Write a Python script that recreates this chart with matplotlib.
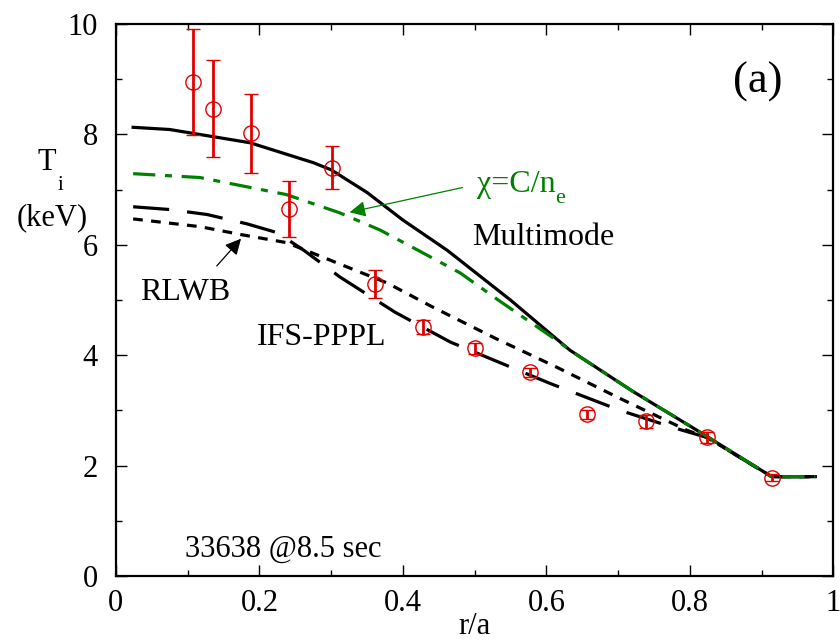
import numpy as np
import matplotlib
matplotlib.use('Agg')
import matplotlib.pyplot as plt

plt.rcParams['font.family'] = ['Liberation Serif', 'DejaVu Serif']
plt.rcParams['lines.scale_dashes'] = False

red = '#e00000'
green = '#008000'

# measured Ti (keV) with error bars
r_exp = [0.107, 0.135, 0.188, 0.241, 0.301, 0.361, 0.428, 0.501, 0.577, 0.657, 0.739, 0.824, 0.914]
ti_exp = [8.95, 8.47, 8.02, 6.65, 7.40, 5.29, 4.51, 4.13, 3.69, 2.93, 2.80, 2.51, 1.78]
ti_err = [0.96, 0.88, 0.71, 0.50, 0.39, 0.25, 0.12, 0.10, 0.08, 0.08, 0.12, 0.10, 0.06]

# Multimode (solid)
r_mm = [0.024, 0.075, 0.187, 0.275, 0.30, 0.35, 0.40, 0.462, 0.55, 0.633, 0.72, 0.81, 0.914, 0.975]
ti_mm = [8.13, 8.09, 7.85, 7.49, 7.36, 6.95, 6.45, 5.90, 5.00, 4.09, 3.35, 2.64, 1.80, 1.80]

# chi = C/n_e (green dash-dot)
r_chi = [0.024, 0.117, 0.238, 0.312, 0.368, 0.42, 0.48, 0.533, 0.61, 0.64, 0.72, 0.81, 0.914, 0.975]
ti_chi = [7.29, 7.22, 6.91, 6.58, 6.27, 5.91, 5.49, 5.00, 4.31, 4.03, 3.35, 2.64, 1.80, 1.80]

# RLWB (short dash)
r_rlwb = [0.024, 0.117, 0.177, 0.238, 0.326, 0.378, 0.442, 0.53, 0.615, 0.699, 0.796, 0.824, 0.914, 0.975]
ti_rlwb = [6.47, 6.33, 6.18, 6.04, 5.58, 5.31, 4.87, 4.30, 3.78, 3.24, 2.64, 2.51, 1.80, 1.80]

# IFS-PPPL (long dash)
r_ifs = [0.024, 0.075, 0.127, 0.183, 0.225, 0.261, 0.312, 0.389, 0.466, 0.605, 0.703, 0.782, 0.824, 0.914, 0.975]
ti_ifs = [6.69, 6.64, 6.55, 6.38, 6.22, 5.91, 5.42, 4.78, 4.24, 3.49, 3.00, 2.67, 2.51, 1.80, 1.80]

fig = plt.figure(figsize=(8.4, 6.41), dpi=100)
ax = fig.add_axes([0.138, 0.1014, 0.854, 0.861])

ax.plot(r_mm, ti_mm, color='black', lw=2.3)
ax.plot(r_rlwb, ti_rlwb, color='black', lw=2.3, dashes=(7, 6))
ax.plot(r_ifs, ti_ifs, color='black', lw=2.3, dashes=(26, 13))
ax.plot(r_chi, ti_chi, color=green, lw=2.3, dashes=(16, 7, 5, 7))

ax.errorbar(r_exp, ti_exp, yerr=ti_err, fmt='o', ms=11, mfc='none', mec=red, mew=1.0,
            ecolor=red, elinewidth=2.0, capsize=5, capthick=2.0, zorder=5)

ax.set_xlim(0, 1)
ax.set_ylim(0, 10)
ax.set_xticks(np.arange(0, 1.01, 0.2))
ax.set_xticklabels(['0', '0.2', '0.4', '0.6', '0.8', '1'])
ax.set_xticks(np.arange(0, 1.01, 0.1), minor=True)
ax.set_yticks(np.arange(0, 11, 2))
ax.set_yticks(np.arange(0, 11, 1), minor=True)
ax.tick_params(which='both', direction='in', top=True, right=True, width=1.0)
ax.tick_params(which='major', length=8, labelsize=22)
ax.tick_params(axis='x', which='major', pad=9)
ax.tick_params(axis='y', which='major', pad=13)
ax.tick_params(which='minor', length=4.5)
for s in ax.spines.values():
    s.set_linewidth(1.6)

ax.set_xlabel('r/a', fontsize=22, labelpad=-4)
fig.text(0.056, 0.746, 'T', fontsize=22, ha='center', va='center')
fig.text(0.0715, 0.71, 'i', fontsize=15, ha='center', va='center')
fig.text(0.062, 0.66, '(keV)', fontsize=22, ha='center', va='center')

ax.annotate('', xy=(0.322, 6.58), xytext=(0.487, 7.05),
            arrowprops=dict(arrowstyle='-|>', color=green, lw=0.9, mutation_scale=24))
ax.text(0.503, 7.09, 'χ=C/n', color=green, fontsize=23, ha='left', va='center')
ax.text(0.619, 6.84, 'e', color=green, fontsize=16, ha='center', va='center')
ax.text(0.497, 6.13, 'Multimode', fontsize=23, ha='left', va='center')
ax.annotate('', xy=(0.177, 6.15), xytext=(0.138, 5.58),
            arrowprops=dict(arrowstyle='-|>', color='black', lw=0.9, mutation_scale=24))
ax.text(0.033, 5.13, 'RLWB', fontsize=23, ha='left', va='center')
ax.text(0.197, 4.33, 'IFS-PPPL', fontsize=23, ha='left', va='center')
ax.text(0.895, 8.95, '(a)', fontsize=32, ha='center', va='center')
ax.text(0.096, 0.49, '33638 @8.5 sec', fontsize=22, ha='left', va='center')

plt.savefig('out.png', dpi=100)
